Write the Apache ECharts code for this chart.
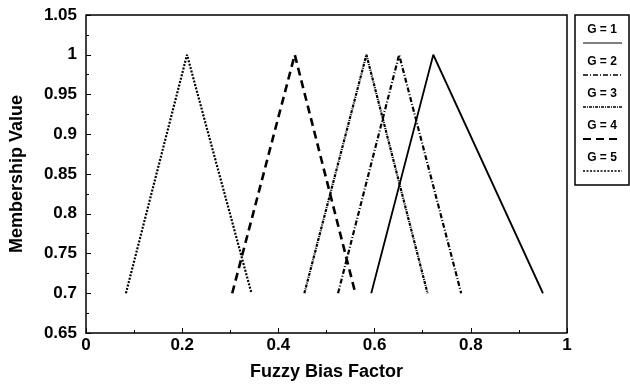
<!DOCTYPE html>
<html>
<head>
<meta charset="utf-8">
<script src="https://cdn.jsdelivr.net/npm/echarts@6/dist/echarts.min.js"></script>
<style>
  html, body { margin: 0; padding: 0; background: #fff; }
  #chart { width: 630px; height: 386px; }
</style>
</head>
<body>
<div id="chart"></div>
<script>
// triangle membership functions: x of left foot, peak, right foot
var groupNames = ['G = 1', 'G = 2', 'G = 3', 'G = 4', 'G = 5']
var xG1 = [0.593, 0.722, 0.95]
var xG2 = [0.524, 0.651, 0.78]
var xG3 = [0.454, 0.583, 0.71]
var xG4 = [0.304, 0.434, 0.56]
var xG5 = [0.083, 0.21, 0.344]
var yTri = [0.7, 1, 0.7]
var xTicks = [0, 0.2, 0.4, 0.6, 0.8, 1]
var yTicks = [0.65, 0.7, 0.75, 0.8, 0.85, 0.9, 0.95, 1, 1.05]

var xGroups = [xG1, xG2, xG3, xG4, xG5]
var dashes = ['solid', [5, 2, 1, 2], [3, 1, 1, 1], [8, 5], [2, 1.5]]
var widths = [1.8, 2.2, 2.2, 2.6, 2.2]

var chart = echarts.init(document.getElementById('chart'))

function pts(xs) {
  return xs.map(function(x, i) { return [x, yTri[i]] })
}

var series = xGroups.map(function(xs, i) {
  return {
    name: groupNames[i],
    type: 'line',
    data: pts(xs),
    symbol: 'none',
    lineStyle: { color: '#000', width: widths[i], type: dashes[i] }
  }
})

// legend drawn by hand: label above a sample of the line
var legendItems = []
legendItems.push({
  type: 'rect',
  shape: { x: 575, y: 15, width: 54, height: 170 },
  style: { fill: 'none', stroke: '#000', lineWidth: 1.5 }
})
groupNames.forEach(function(n, i) {
  legendItems.push({
    type: 'text',
    x: 602, y: 30 + i * 32,
    style: { text: n, font: 'bold 12px "Liberation Sans", Arial', fill: '#000', align: 'center', verticalAlign: 'middle' }
  })
  legendItems.push({
    type: 'line',
    shape: { x1: 583, y1: 43 + i * 32, x2: 622, y2: 43 + i * 32 },
    style: { stroke: '#000', lineWidth: widths[i] - 0.6, lineDash: dashes[i] === 'solid' ? null : dashes[i] }
  })
})

var axisFont = { color: '#000', fontFamily: 'Liberation Sans', fontWeight: 'bold', fontSize: 18 }
var tickFont = { color: '#000', fontFamily: 'Liberation Sans', fontWeight: 'bold', fontSize: 17 }

chart.setOption({
  animation: false,
  backgroundColor: '#fff',
  grid: { left: 86, right: 63, top: 15, bottom: 53 },
  xAxis: {
    type: 'value',
    min: 0, max: 1, interval: 0.2,
    name: 'Fuzzy Bias Factor',
    nameLocation: 'middle',
    nameGap: 30,
    nameTextStyle: axisFont,
    axisLine: { lineStyle: { color: '#000', width: 1.5 } },
    axisTick: { inside: true, length: 5, lineStyle: { color: '#000' } },
    minorTick: { show: true, splitNumber: 2, length: 3, lineStyle: { color: '#000' } },
    axisLabel: Object.assign({ margin: 4,
      formatter: function(v) { return xTicks.indexOf(+v.toFixed(2)) >= 0 ? String(+v.toFixed(2)) : '' } }, tickFont),
    splitLine: { show: false }
  },
  yAxis: {
    type: 'value',
    min: 0.65, max: 1.05, interval: 0.05,
    name: 'Membership Value',
    nameLocation: 'middle',
    nameGap: 60,
    nameTextStyle: axisFont,
    axisLine: { show: true, lineStyle: { color: '#000', width: 1.5 } },
    axisTick: { show: true, inside: true, length: 5, lineStyle: { color: '#000' } },
    minorTick: { show: true, splitNumber: 2, length: 3, lineStyle: { color: '#000' } },
    axisLabel: Object.assign({ margin: 9,
      formatter: function(v) { return yTicks.indexOf(+v.toFixed(2)) >= 0 ? String(+v.toFixed(2)) : '' } }, tickFont),
    splitLine: { show: false }
  },
  graphic: [
    // plot frame top and right
    { type: 'polyline', shape: { points: [[86, 15], [567, 15], [567, 333]] },
      style: { stroke: '#000', lineWidth: 1.5, fill: 'none' } }
  ].concat(legendItems),
  series: series
})
</script>
</body>
</html>
